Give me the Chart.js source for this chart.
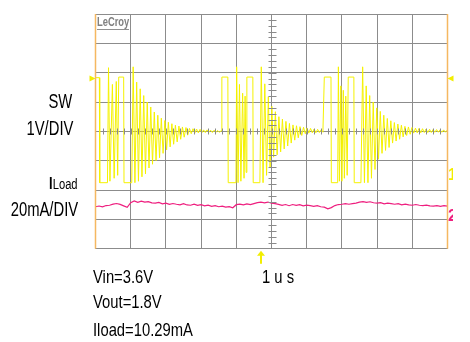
<!DOCTYPE html>
<html>
<head>
<meta charset="utf-8">
<script src="https://cdn.jsdelivr.net/npm/chart.js@4.4.0/dist/chart.umd.min.js"></script>
<style>
  html, body { margin: 0; padding: 0; background: #fff; }
  #wrap { position: relative; width: 470px; height: 342px; overflow: hidden;
          font-family: "Liberation Sans", Arial, sans-serif; color: #000; }
  #scope { position: absolute; left: 0; top: 0; }
  .lbl { position: absolute; white-space: nowrap; line-height: 1; }
  .rt { transform-origin: right center; }
  .lt { transform-origin: left center; }
  .big { font-size: 20px; transform: scaleX(0.74); }
  .note { font-size: 18.5px; transform: scaleX(0.8); }
  .logo { left: 97px; top: 16px; font-size: 12px; font-weight: bold; color: #808080;
          border-bottom: 1px solid #909090; padding-bottom: 1px; transform: scaleX(0.78); }
  .clip { position: absolute; overflow: hidden; width: 5px; height: 18px; }
  .clip span { position: absolute; left: 0; top: 0; font-size: 16px; font-weight: bold; line-height: 1; }
</style>
</head>
<body>
<div id="wrap">
  <canvas id="scope" width="470" height="342"></canvas>
  <div class="lbl logo lt">LeCroy</div>
  <div class="lbl big rt" style="right:398px; top:90.7px;">SW</div>
  <div class="lbl big rt" style="right:397px; top:117.7px;">1V/DIV</div>
  <div class="lbl rt" style="right:392px; top:175.5px; line-height:16px; transform:scaleX(0.8);"><b style="font-size:16px;">I</b><span style="font-size:14px;">Load</span></div>
  <div class="lbl big rt" style="right:392px; top:199.2px;">20mA/DIV</div>
  <div class="lbl note lt" style="left:93px; top:267.6px;">Vin=3.6V</div>
  <div class="lbl note lt" style="left:93px; top:293.4px;">Vout=1.8V</div>
  <div class="lbl note lt" style="left:93px; top:320.6px;">Iload=10.29mA</div>
  <div class="lbl note lt" style="left:262px; top:267.6px;">1 u s</div>
  <div class="clip" style="left:448px; top:167px;"><span style="color:#f2ee00;">1</span></div>
  <div class="clip" style="left:448px; top:208px;"><span style="color:#ee1f7f;">2</span></div>
</div>
<script>
// Oscilloscope setup: 10 x 8 divisions, 1 us/div
const timePerDiv = 1;          // us
const voltsPerDiv = 1;         // SW channel
const swCenter = 1.8;          // V at the centre line
const mAPerDiv = 20;           // ILoad channel
const iloadMean = 10.29;       // mA
const iloadOffsetDiv = -2.5;   // where the mean sits on the screen
const triggerVolts = 3.6;
const triggerTime = 4.7;       // us

// SW trace, burst switching pulses [us, V]
const swPulses1 = [[0.00,3.63],[0.11,3.63],[0.12,0.05],[0.34,0.05],[0.37,3.97],[0.41,0.10],
  [0.48,3.40],[0.53,0.20],[0.59,3.50],[0.63,0.30],[0.66,3.65],[0.80,3.65],[0.81,0.05],[1.03,0.05]];
const swPulses2 = [[3.59,3.65],[3.76,3.65],[3.77,0.05],[3.99,0.05],[4.01,4.00],[4.05,0.05],
  [4.09,3.40],[4.13,0.10],[4.18,3.10],[4.22,0.20],[4.25,3.00],[4.28,0.40],[4.30,3.65],[4.47,3.65],
  [4.48,0.05],[4.67,0.05]];
const swPulses3 = [[6.50,3.65],[6.69,3.65],[6.70,0.05],[6.88,0.05],[6.90,4.00],[6.93,0.10],
  [6.97,3.35],[7.00,0.10],[7.04,3.20],[7.07,0.20],[7.11,3.00],[7.15,0.30],[7.18,3.65],[7.34,3.65],
  [7.35,0.05],[7.54,0.05]];

// SW ringing after each burst, sampled every ringStep us (V)
const ringStep = 0.05;
const swRing1Start = 1.07;
const swRing1 = [4.00,0.05,3.48,0.10,3.25,0.25,3.02,0.35,2.80,0.55,2.63,0.68,2.46,0.80,2.35,0.90,
  2.25,1.05,2.17,1.17,2.11,1.27,2.06,1.36,2.01,1.44,1.98,1.53,1.95,1.60,1.93,1.67,1.90,1.72,1.89,1.74,
  1.88,1.75,1.87,1.75,1.85,1.76,1.85,1.77,1.84,1.76,1.84,1.77,1.83,1.77,1.82];
const swRing2Start = 4.71;
const swRing2 = [4.00,0.05,3.42,0.30,2.98,0.55,2.65,0.92,2.47,1.00,2.30,1.10,2.22,1.20,2.14,1.30,
  2.07,1.40,2.02,1.50,1.99,1.58,1.96,1.66,1.94,1.72,1.91,1.74,1.90,1.75,1.88,1.75,1.87,1.76,1.85,1.77];
const swRing3Start = 7.59;
const swRing3 = [4.00,0.05,3.35,0.05,3.02,0.20,2.80,0.50,2.60,0.85,2.48,1.05,2.35,1.15,2.24,1.25,
  2.16,1.40,2.10,1.47,2.05,1.53,2.01,1.61,1.97,1.66,1.95,1.70,1.93,1.74,1.91,1.75,1.90,1.75,1.89,1.76,
  1.88,1.76,1.87,1.76,1.86,1.77,1.86,1.77,1.85,1.77,1.85,1.77,1.84];

// Load current, sampled every iloadStep us (mA)
const iloadStep = 0.1;
const iloadMA = [8.9,9.4,8.8,9.7,9.9,10.7,11.1,10.5,9.5,8.5,
  11.7,12.8,11.9,12.7,12.0,12.4,11.5,11.4,11.8,10.9,
  11.4,10.5,11.1,10.6,10.2,11.0,10.1,9.9,10.7,9.8,
  10.3,9.5,10.0,9.2,9.7,8.9,9.3,8.6,9.0,8.2,
  10.3,10.7,10.2,10.8,10.3,11.0,11.7,12.0,11.6,12.1,
  11.3,11.0,10.5,9.9,10.4,9.6,10.4,9.9,10.3,9.5,
  10.0,9.6,9.2,9.7,8.9,8.6,7.5,8.3,9.7,10.4,
  10.6,11.0,10.6,11.0,11.4,12.0,12.4,11.9,12.3,11.6,
  11.3,11.7,10.9,11.4,11.0,10.6,11.0,10.2,10.7,10.2,
  9.9,10.4,9.9,9.6,10.0,9.5,9.3,9.7,9.2,9.6,9.3];

function burst(pulses, ringStart, ring) {
  const pts = pulses.map(p => ({ x: p[0], y: p[1] }));
  ring.forEach((v, i) => pts.push({ x: ringStart + i * ringStep, y: v }));
  return pts;
}

const swData = [].concat(
  burst(swPulses1, swRing1Start, swRing1),
  burst(swPulses2, swRing2Start, swRing2),
  burst(swPulses3, swRing3Start, swRing3)
);
const iloadData = iloadMA.map((v, i) => ({ x: i * iloadStep, y: v }));

const gridColor = '#8c8c8c';

// centre-axis minor ticks, orange frame sides and trigger markers
const scopeDecor = {
  id: 'scopeDecor',
  afterDatasetsDraw(chart) {
    const { ctx, chartArea: a, scales } = chart;
    const x = scales.x, y = scales.y, ySW = scales.ySW;
    ctx.save();
    ctx.strokeStyle = '#8a8a8a';
    ctx.lineWidth = 1;
    const cx = Math.round(x.getPixelForValue(5 * timePerDiv)) + 0.5;
    const cy = Math.round(y.getPixelForValue(0)) + 0.5;
    ctx.beginPath();
    for (let k = 1; k < 50; k++) {
      const px = Math.round(x.getPixelForValue(k * 0.2 * timePerDiv)) + 0.5;
      ctx.moveTo(px, cy - 3); ctx.lineTo(px, cy + 3);
    }
    for (let k = -19; k < 20; k++) {
      const py = Math.round(y.getPixelForValue(k * 0.2)) + 0.5;
      ctx.moveTo(cx - 4, py); ctx.lineTo(cx + 4, py);
    }
    ctx.stroke();

    ctx.strokeStyle = '#f5b861';
    ctx.lineWidth = 1.5;
    ctx.beginPath();
    ctx.moveTo(a.left, a.top); ctx.lineTo(a.left, a.bottom);
    ctx.moveTo(a.right, a.top); ctx.lineTo(a.right, a.bottom);
    ctx.stroke();

    ctx.fillStyle = '#f2ee00';
    const ty = ySW.getPixelForValue(triggerVolts);
    ctx.beginPath();
    ctx.moveTo(a.left - 6, ty - 3); ctx.lineTo(a.left, ty); ctx.lineTo(a.left - 6, ty + 3);
    ctx.fill();
    ctx.beginPath();
    ctx.moveTo(a.right + 6, ty - 3); ctx.lineTo(a.right, ty); ctx.lineTo(a.right + 6, ty + 3);
    ctx.fill();

    const tx = Math.round(x.getPixelForValue(triggerTime));
    ctx.strokeStyle = '#f2ee00';
    ctx.lineWidth = 2;
    ctx.beginPath();
    ctx.moveTo(tx, a.bottom + 4); ctx.lineTo(tx, a.bottom + 15);
    ctx.stroke();
    ctx.beginPath();
    ctx.moveTo(tx - 4, a.bottom + 7); ctx.lineTo(tx, a.bottom + 2); ctx.lineTo(tx + 4, a.bottom + 7);
    ctx.fill();
    ctx.restore();
  }
};

new Chart(document.getElementById('scope').getContext('2d'), {
  type: 'line',
  data: {
    datasets: [{
      label: 'SW',
      data: swData,
      yAxisID: 'ySW',
      borderColor: '#f5f200',
      borderWidth: 1,
      pointRadius: 0,
      tension: 0
    }, {
      label: 'ILoad',
      data: iloadData,
      yAxisID: 'yI',
      borderColor: '#ee1f7f',
      borderWidth: 1.2,
      pointRadius: 0,
      tension: 0
    }]
  },
  options: {
    responsive: false,
    animation: false,
    events: [],
    layout: { padding: { left: 95.5, right: 22.5, top: 14, bottom: 93.3 } },
    plugins: { legend: { display: false }, title: { display: false }, tooltip: { enabled: false } },
    scales: {
      x: {
        type: 'linear', min: 0, max: 10 * timePerDiv,
        ticks: { display: false, stepSize: timePerDiv },
        grid: { color: gridColor, drawTicks: false },
        border: { color: gridColor }
      },
      y: {
        type: 'linear', min: -4, max: 4,
        ticks: { display: false, stepSize: 1 },
        grid: { color: gridColor, drawTicks: false },
        border: { color: gridColor }
      },
      ySW: { display: false, min: swCenter - 4 * voltsPerDiv, max: swCenter + 4 * voltsPerDiv },
      yI: {
        display: false,
        min: iloadMean - (4 + iloadOffsetDiv) * mAPerDiv,
        max: iloadMean + (4 - iloadOffsetDiv) * mAPerDiv
      }
    }
  },
  plugins: [scopeDecor]
});
</script>
</body>
</html>
